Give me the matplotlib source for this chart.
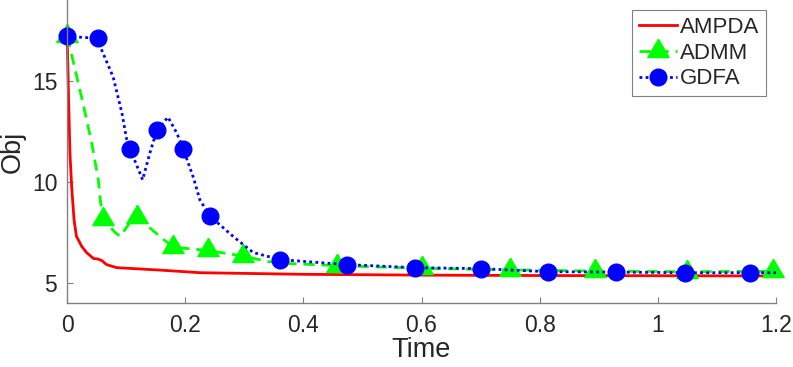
import numpy as np
import matplotlib
matplotlib.use('Agg')
import matplotlib.pyplot as plt

plt.rcParams['font.family'] = ['Liberation Sans', 'DejaVu Sans']

# AMPDA (red solid)
t_ampda = [0, 0.0005, 0.0022, 0.005, 0.008, 0.012, 0.016, 0.025, 0.033, 0.045,
           0.052, 0.059, 0.067, 0.084, 0.157, 0.225, 0.4, 0.6, 0.8, 1.0, 1.18]
obj_ampda = [17.2, 17.0, 14.7, 11.4, 9.7, 8.1, 7.3, 6.8, 6.5, 6.2,
             6.18, 6.1, 5.9, 5.75, 5.63, 5.5, 5.42, 5.38, 5.36, 5.35, 5.34]

# ADMM (green dashed, triangles)
t_admm = [0, 0.011, 0.027, 0.042, 0.053, 0.057, 0.061, 0.081, 0.09, 0.107,
          0.119, 0.157, 0.18, 0.21, 0.239, 0.27, 0.298, 0.34, 0.38, 0.457,
          0.6, 0.75, 0.894, 1.049, 1.195]
obj_admm = [17.2, 15.9, 13.9, 11.9, 10.1, 8.95, 8.16, 7.5, 7.3, 8.0,
            8.25, 7.3, 6.76, 6.68, 6.6, 6.45, 6.33, 6.05, 5.95, 5.85,
            5.72, 5.64, 5.58, 5.55, 5.57]
mark_admm = [0, 6, 10, 12, 14, 16, 19, 20, 21, 22, 23, 24]

# GDFA (blue dotted, circles)
t_gdfa = [0, 0.053, 0.059, 0.078, 0.093, 0.101, 0.107, 0.128, 0.140, 0.152,
          0.171, 0.186, 0.197, 0.214, 0.225, 0.242, 0.281, 0.315, 0.36, 0.428,
          0.474, 0.589, 0.70, 0.814, 0.93, 1.046, 1.156, 1.2]
obj_gdfa = [17.2, 17.1, 16.5, 15.2, 13.4, 12.1, 11.6, 10.1, 11.4, 12.55,
            13.2, 12.4, 11.6, 10.2, 9.1, 8.3, 7.3, 6.5, 6.15, 6.0,
            5.9, 5.75, 5.7, 5.55, 5.53, 5.5, 5.5, 5.5]
mark_gdfa = [0, 1, 6, 9, 12, 15, 18, 20, 21, 22, 23, 24, 25, 26]

xticks = [0, 0.2, 0.4, 0.6, 0.8, 1, 1.2]
xticklabels = ['0', '0.2', '0.4', '0.6', '0.8', '1', '1.2']
yticks = [5, 10, 15]

# triangle centred on its centroid, like matlab
tri = [(0, 1), (-0.88, -0.5), (0.88, -0.5), (0, 1)]

fig = plt.figure(figsize=(7.93, 3.67), dpi=100)
ax = fig.add_axes([67 / 793, 64 / 367, 709 / 793, 303 / 367])

ax.plot(t_ampda, obj_ampda, color='#ff0000', lw=2, label='AMPDA', clip_on=False)
ax.plot(t_admm, obj_admm, color='#00ff00', lw=2, dashes=(4, 2.5),
        marker=tri, markersize=17.5, markevery=mark_admm, label='ADMM', clip_on=False)
ax.plot(t_gdfa, obj_gdfa, color='#0000ff', lw=2, dashes=(1, 1.2),
        marker='o', markersize=12, markevery=mark_gdfa, label='GDFA', clip_on=False)

ax.set_xlim(0, 1.2)
ax.set_ylim(4, 19)
ax.set_xticks(xticks)
ax.set_xticklabels(xticklabels)
ax.set_yticks(yticks)

for s in ['top', 'right']:
    ax.spines[s].set_visible(False)
for s in ['left', 'bottom']:
    ax.spines[s].set_color('#808080')
    ax.spines[s].set_linewidth(1)
ax.tick_params(direction='in', length=4.5, width=0.8, color='#808080',
               labelsize=16.5, labelcolor='#262626')
ax.tick_params(axis='x', pad=8)
ax.tick_params(axis='y', pad=7)

ax.set_xlabel('Time', fontsize=19.5, color='#262626', labelpad=0)
ax.set_ylabel('Obj', fontsize=19.5, color='#262626', labelpad=4)

leg = ax.legend(loc='upper right', bbox_to_anchor=((766 - 67) / 709, (303 - 10) / 303),
                borderaxespad=0, fontsize=16, fancybox=False, framealpha=1,
                edgecolor='#808080', handlelength=1.7, handletextpad=0.15,
                labelspacing=0.22, borderpad=0.3)
leg.get_frame().set_linewidth(0.8)
for txt in leg.get_texts():
    txt.set_color('#262626')

fig.savefig('out.png', dpi=100)
